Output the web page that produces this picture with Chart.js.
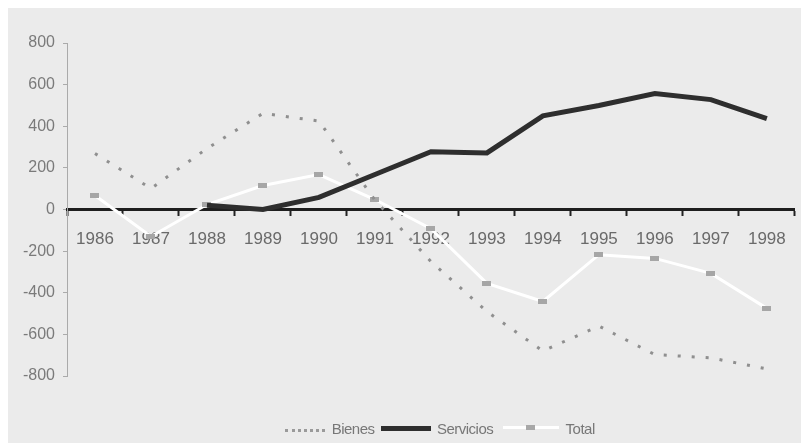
<!DOCTYPE html>
<html>
<head>
<meta charset="utf-8">
<script src="https://cdn.jsdelivr.net/npm/chart.js@4"></script>
<style>
  html, body { margin: 0; padding: 0; background: #fff; }
  #wrap { position: absolute; left: 8px; top: 8px; width: 793px; height: 435px; background: #ebebeb; }
  #chart { position: absolute; left: 0; top: 0; }
  #legend { position: absolute; left: 277px; top: 410px; white-space: nowrap;
    font-family: "Liberation Sans", Arial, sans-serif; font-size: 15px; color: #777; letter-spacing: -0.5px; }
  #legend span { display: inline-block; vertical-align: middle; }
  .sw { position: relative; height: 10px; }
</style>
</head>
<body>
<div id="wrap">
  <canvas id="chart" width="793" height="435"></canvas>
  <div id="legend">
    <span class="sw" style="width:40px;border-top:3px dotted #9a9a9a;height:0;margin-top:4px;"></span>
    <span style="margin:0 3px 0 3px">Bienes</span>
    <span class="sw" style="width:50px;background:#2e2e2e;height:5px;"></span>
    <span style="margin:0 6px 0 2px">Servicios</span>
    <span class="sw" style="width:56px;height:10px;">
      <span style="position:absolute;left:0;top:3px;width:56px;height:3px;background:#fff;"></span>
      <span style="position:absolute;left:23px;top:2px;width:9px;height:5px;background:#a8a8a8;"></span>
    </span>
    <span style="margin-left:3px">Total</span>
  </div>
</div>
<script>
const years = ["1986", "1987", "1988", "1989", "1990", "1991", "1992", "1993", "1994", "1995", "1996", "1997", "1998"];
const bienes = [269, 101, 293, 462, 425, 45, -250, -490, -680, -560, -697, -713, -766];
const servicios = [null, null, 20, 0, 58, 168, 278, 272, 450, 500, 557, 528, 437];
const total = [67, -130, 24, 115, 168, 48, -92, -355, -442, -217, -235, -307, -475];
const yTicks = [-800, -600, -400, -200, 0, 200, 400, 600, 800];

const fontFamily = '"Liberation Sans", Arial, sans-serif';

// small horizontal gray block used as the Total marker
const mark = document.createElement("canvas");
mark.width = 9;
mark.height = 5;
const mctx = mark.getContext("2d");
mctx.fillStyle = "#a6a6a6";
mctx.fillRect(0, 0, 9, 5);

const ctx = document.getElementById("chart").getContext("2d");

// Chart.js paints the first dataset last, so the marks sit before the white Total line
new Chart(ctx, {
  type: "line",
  data: {
    labels: years,
    datasets: [
      {
        label: "Bienes",
        data: bienes,
        borderColor: "#8f8f8f",
        borderWidth: 3,
        borderDash: [3, 11],
        pointRadius: 0,
        tension: 0
      },
      {
        label: "Servicios",
        data: servicios,
        borderColor: "#2e2e2e",
        borderWidth: 5,
        pointRadius: 0,
        tension: 0
      },
      {
        label: "Total marcas",
        data: total,
        showLine: false,
        pointStyle: mark,
        pointRadius: 5
      },
      {
        label: "Total",
        data: total,
        borderColor: "#ffffff",
        borderWidth: 3,
        pointRadius: 0,
        tension: 0
      }
    ]
  },
  options: {
    responsive: false,
    animation: false,
    layout: { padding: { top: 35, right: 3, bottom: 67, left: 0 } },
    plugins: {
      legend: { display: false },
      tooltip: { enabled: false }
    },
    scales: {
      x: {
        position: { y: 0 },
        offset: true,
        grid: {
          offset: true,
          drawOnChartArea: false,
          drawTicks: true,
          tickLength: 5,
          tickWidth: 2,
          tickColor: "#222"
        },
        border: { display: true, color: "#1e1e1e", width: 3 },
        ticks: {
          color: "#6a6a6a",
          font: { family: fontFamily, size: 17 },
          padding: 15,
          maxRotation: 0,
          autoSkip: false
        }
      },
      y: {
        min: -800,
        max: 800,
        afterBuildTicks: scale => { scale.ticks = yTicks.map(v => ({ value: v })); },
        afterFit: scale => { scale.width = 59; },
        grid: {
          drawOnChartArea: false,
          drawTicks: true,
          tickLength: 4,
          tickColor: "#aaa"
        },
        border: { display: true, color: "#aaa", width: 1 },
        ticks: {
          color: "#7a7a7a",
          font: { family: fontFamily, size: 16 },
          padding: 8
        }
      }
    }
  }
});
</script>
</body>
</html>
